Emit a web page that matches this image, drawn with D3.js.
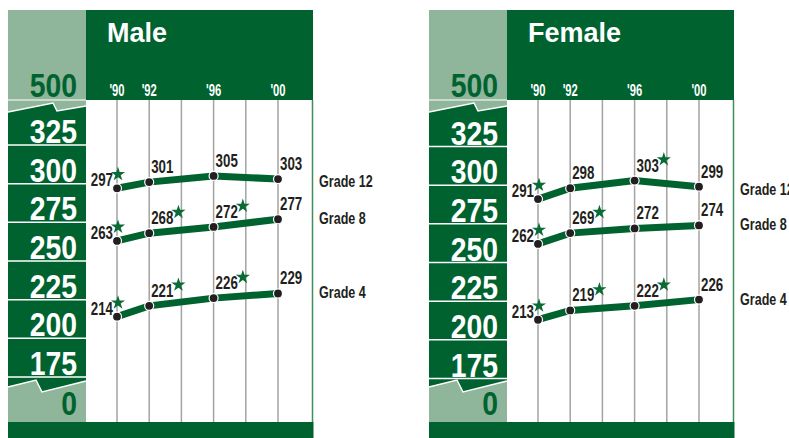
<!DOCTYPE html>
<html>
<head>
<meta charset="utf-8">
<script src="https://cdn.jsdelivr.net/npm/d3@7"></script>
<style>
  body { margin: 0; background: #fff; }
  svg text { font-family: "Liberation Sans", Arial, sans-serif; font-weight: bold; }
</style>
</head>
<body>
<svg id="chart" width="789" height="438"></svg>
<script>
// data
const years = [1990, 1992, 1996, 2000];
const gridYears = [1990, 1992, 1994, 1996, 1998, 2000];
const yearLabels = ["'90", "'92", "'96", "'00"];
const grades = ["Grade 12", "Grade 8", "Grade 4"];
const yTicks = [325, 300, 275, 250, 225, 200, 175];

const maleScores = [
    [297, 301, 305, 303],
    [263, 268, 272, 277],
    [214, 221, 226, 229]
];
const maleStars = [
    [1, 0, 0, 0],
    [1, 1, 1, 0],
    [1, 1, 1, 0]
];
const femaleScores = [
    [291, 298, 303, 299],
    [262, 269, 272, 274],
    [213, 219, 222, 226]
];
const femaleStars = [
    [1, 0, 1, 0],
    [1, 1, 0, 0],
    [1, 1, 1, 0]
];

const DARK = "#00632f";
const LIGHT = "#8fb59a";
const INK = "#231f20";

const svg = d3.select("#chart");

const panels = [
    { title: "Male", ox: 0, dy: 0, scores: maleScores, stars: maleStars },
    { title: "Female", ox: 421, dy: 1.5, scores: femaleScores, stars: femaleStars }
];

panels.forEach(p => drawPanel(p));

// condensed text: position with translate, squeeze horizontally
function squeeze(sel, fx, fy, sx) {
    return sel.attr("transform", (d, i) => `translate(${fx(d, i)},${fy(d, i)}) scale(${sx},1)`);
}

function drawPanel(p) {
    const g = svg.append("g").attr("transform", `translate(${p.ox},0)`);

    const left = 8, colRight = 86, right = 312.5;
    const top = 10, headBottom = 100, bottom = 422;

    const x = d3.scaleLinear().domain([1990, 2000]).range([117, 278]);
    const y = d3.scaleLinear().domain([175, 325]).range([377 + p.dy, 145 + p.dy]);

    // axis column
    g.append("rect")
        .attr("x", left).attr("y", top)
        .attr("width", colRight - left).attr("height", bottom - top)
        .attr("fill", LIGHT);

    const topZig = [[left, 112], [53, 103], [57, 111], [colRight, 106]];
    const botZig = [[left, 387], [36, 380], [42, 392], [colRight, 381]];

    g.append("path")
        .attr("d", d3.line()(topZig.concat(botZig.slice().reverse())) + "Z")
        .attr("fill", DARK);

    g.append("path").attr("d", d3.line()(topZig))
        .attr("fill", "none").attr("stroke", "#fff").attr("stroke-width", 1.5);
    g.append("path").attr("d", d3.line()(botZig))
        .attr("fill", "none").attr("stroke", "#fff").attr("stroke-width", 1.5);

    g.append("line")
        .attr("x1", left).attr("x2", colRight)
        .attr("y1", headBottom).attr("y2", headBottom)
        .attr("stroke", "#dfe9e2").attr("stroke-width", 1.5);

    g.selectAll(".sep")
        .data(yTicks)
        .join("line")
        .attr("x1", left).attr("x2", colRight)
        .attr("y1", d => y(d)).attr("y2", d => y(d))
        .attr("stroke", "#fff").attr("stroke-width", 1.5);

    squeeze(g.selectAll(".tick")
        .data(yTicks)
        .join("text")
        .attr("text-anchor", "end")
        .attr("fill", "#fff")
        .attr("font-size", 33)
        .text(d => d), () => 77, d => y(d) - 2, 0.86);

    squeeze(g.append("text")
        .attr("text-anchor", "end")
        .attr("fill", DARK)
        .attr("font-size", 33)
        .text("500"), () => 77, () => 97, 0.86);

    squeeze(g.append("text")
        .attr("text-anchor", "end")
        .attr("fill", DARK)
        .attr("font-size", 33)
        .text("0"), () => 77, () => 415, 0.86);

    // header
    g.append("rect")
        .attr("x", colRight).attr("y", top)
        .attr("width", right - colRight + 0.5).attr("height", headBottom - top)
        .attr("fill", DARK);

    g.append("text")
        .attr("x", 107).attr("y", 42)
        .attr("fill", "#fff")
        .attr("font-size", 27)
        .text(p.title);

    squeeze(g.selectAll(".yr")
        .data(years)
        .join("text")
        .attr("text-anchor", "middle")
        .attr("fill", "#fff")
        .attr("font-size", 17)
        .text((d, i) => yearLabels[i]), d => x(d), () => 96, 0.66);

    // plot area
    g.selectAll(".grid")
        .data(gridYears)
        .join("line")
        .attr("x1", d => x(d)).attr("x2", d => x(d))
        .attr("y1", headBottom).attr("y2", bottom)
        .attr("stroke", "#a3a3a3").attr("stroke-width", 1.5);

    g.append("line")
        .attr("x1", right).attr("x2", right)
        .attr("y1", headBottom).attr("y2", bottom)
        .attr("stroke", "#3f8f5b").attr("stroke-width", 1.5);

    g.append("rect")
        .attr("x", left).attr("y", bottom)
        .attr("width", right - left + 1).attr("height", 16)
        .attr("fill", DARK);

    // series
    const labSx = 0.72;
    p.scores.forEach((vals, gi) => {
        const pts = vals.map((v, i) => ({ year: years[i], v, star: p.stars[gi][i], i }));

        g.append("path")
            .datum(pts)
            .attr("d", d3.line().x(d => x(d.year)).y(d => y(d.v)))
            .attr("fill", "none")
            .attr("stroke", DARK)
            .attr("stroke-width", 7);

        g.selectAll(null)
            .data(pts)
            .join("circle")
            .attr("cx", d => x(d.year))
            .attr("cy", d => y(d.v))
            .attr("r", 4.5)
            .attr("fill", INK)
            .attr("stroke", "#fff")
            .attr("stroke-width", 1.2);

        const lx = d => d.i === 0 ? x(d.year) - 4 : x(d.year) + 2;
        const ly = d => d.i === 0 ? y(d.v) - 2 : y(d.v) - 9;

        const lab = squeeze(g.selectAll(null)
            .data(pts)
            .join("text")
            .attr("text-anchor", d => d.i === 0 ? "end" : "start")
            .attr("fill", INK)
            .attr("font-size", 18.5)
            .text(d => d.v), lx, ly, labSx);

        lab.each(function (d) {
            if (!d.star) return;
            const bb = this.getBBox();
            const ex = lx(d) + (bb.x + bb.width) * labSx;
            g.append("path")
                .attr("d", d3.symbol().type(d3.symbolStar).size(62)())
                .attr("transform", `translate(${ex + 5},${ly(d) - 12})`)
                .attr("fill", "#0b6b35");
        });

        squeeze(g.append("text")
            .attr("fill", INK)
            .attr("font-size", 17)
            .text(grades[gi]),
            () => right + 6.5,
            () => y(vals[vals.length - 1]) + (gi === 0 ? 8 : 5), 0.74);
    });
}
</script>
</body>
</html>
